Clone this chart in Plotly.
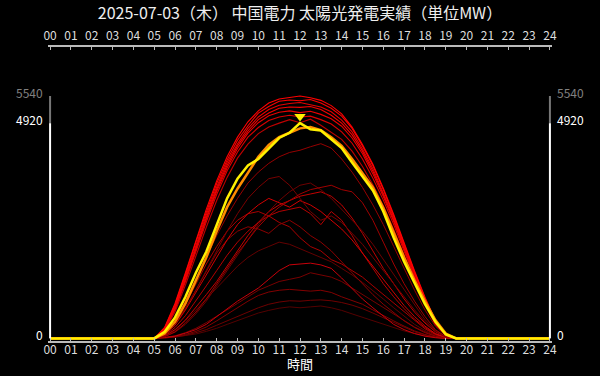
import plotly.graph_objects as go

# hours for the daytime samples (30-min resolution)
hours = [5.0, 5.5, 6.0, 6.5, 7.0, 7.5, 8.0, 8.5, 9.0, 9.5, 10.0, 10.5, 11.0, 11.5, 12.0,
         12.5, 13.0, 13.5, 14.0, 14.5, 15.0, 15.5, 16.0, 16.5, 17.0, 17.5, 18.0, 18.5, 19.0, 19.5]

tick_vals = [0, 1, 2, 3, 4, 5, 6, 7, 8, 9, 10, 11, 12, 13, 14, 15, 16, 17, 18, 19, 20, 21, 22, 23, 24]
tick_text = ["00", "01", "02", "03", "04", "05", "06", "07", "08", "09", "10", "11", "12",
             "13", "14", "15", "16", "17", "18", "19", "20", "21", "22", "23", "24"]

# past days - cloudy / low output (dark reds)
d01 = [0,120,420,850,1350,1850,2350,2800,3200,3550,3800,4000,4150,4250,4300,4380,4450,4350,4100,3800,3450,3050,2600,2100,1600,1100,650,280,60,0]
d02 = [0,100,350,700,1100,1550,2000,2450,2850,3200,3450,3650,3700,3500,3200,2900,2700,2800,2650,2400,2150,1850,1550,1250,950,650,380,160,30,0]
d03 = [0,60,200,420,700,1000,1300,1650,2000,2350,2650,2900,3050,3150,3250,3300,3350,3250,3050,2750,2400,2000,1600,1250,900,600,350,150,30,0]
d04 = [0,90,300,650,1050,1450,1850,2250,2600,2850,3050,3200,3100,3000,3150,3050,2900,2700,2500,2250,1950,1650,1350,1050,750,500,280,110,20,0]
d05 = [0,70,250,520,850,1200,1550,1900,2200,2450,2650,2800,2900,2950,3000,2850,2600,2900,2700,2350,1950,1600,1250,950,680,440,250,100,20,0]
d06 = [0,110,380,780,1250,1700,2100,2450,2700,2850,2900,2800,2650,2550,2300,2100,2000,1800,1700,1550,1400,1200,1000,800,600,400,220,90,20,0]
d07 = [0,20,50,120,200,320,500,680,850,1000,1150,1350,1550,1680,1700,1720,1680,1600,1380,1150,900,700,500,320,200,110,50,15,0,0]
d08 = [0,15,40,90,160,260,400,550,700,850,980,1060,1100,1120,1100,1080,1100,1050,950,870,780,650,520,400,280,170,90,30,0,0]
d09 = [0,10,30,70,130,200,300,400,500,600,700,780,830,860,850,870,880,860,820,760,680,580,470,360,250,150,80,25,0,0]
d10 = [0,90,320,680,1100,1550,1950,2250,2450,2550,2500,2400,2600,2700,2550,2350,2200,2000,1750,1500,1250,1000,780,580,400,250,130,50,10,0]
d11 = [0,50,180,400,650,900,1150,1400,1650,1850,2000,2100,2200,2150,2050,1950,1850,1750,1600,1450,1280,1100,900,700,500,320,180,70,10,0]
d12 = [0,40,150,350,600,900,1250,1600,1950,2250,2550,2800,3000,3150,3300,3400,3450,3500,3400,3350,3100,2700,2200,1700,1250,850,500,200,40,0]
d13 = [0,10,30,60,100,160,230,320,410,500,580,640,690,720,700,720,740,700,640,560,480,400,320,240,170,110,60,20,0,0]
d14 = [0,20,60,130,230,360,500,650,800,950,1100,1200,1300,1350,1400,1500,1450,1400,1300,1150,1000,850,700,550,400,260,150,60,10,0]
d15 = [0,40,140,320,560,850,1200,1550,1900,2250,2600,2900,3150,3350,3500,3550,3400,3200,2950,2700,2450,2150,1800,1450,1100,750,430,180,40,0]

# past days - clear (bright reds)
c01 = [0,250,800,1500,2250,2950,3600,4150,4600,4950,5200,5380,5470,5510,5540,5500,5440,5320,5130,4830,4430,3980,3430,2830,2180,1540,940,410,100,0]
c02 = [0,235,770,1460,2200,2880,3540,4080,4530,4860,5150,5300,5420,5450,5430,5460,5380,5260,5080,4800,4400,3950,3400,2800,2150,1510,920,400,95,0]
c03 = [0,215,730,1410,2120,2820,3460,4020,4450,4800,5060,5230,5330,5370,5390,5340,5290,5180,4990,4720,4330,3880,3340,2760,2110,1480,890,380,85,0]
c04 = [0,200,700,1370,2090,2760,3410,3960,4400,4740,5000,5150,5260,5290,5280,5300,5230,5100,4920,4650,4280,3820,3290,2710,2070,1450,870,365,80,0]
c05 = [0,195,690,1340,2040,2720,3360,3900,4340,4690,4930,5090,5170,5200,5160,5190,5120,5020,4850,4580,4220,3760,3240,2670,2040,1410,840,350,75,0]
c06 = [0,185,660,1300,1990,2660,3290,3830,4260,4600,4820,4980,5060,5100,5060,5080,5000,4900,4720,4460,4100,3660,3160,2600,1990,1380,810,335,70,0]
c07 = [0,170,610,1220,1890,2540,3150,3680,4120,4440,4680,4830,4920,5000,4930,5010,4870,4720,4550,4280,3930,3510,3030,2490,1900,1310,780,315,65,0]

# yesterday (orange) and today (yellow)
yesterday = [0,110,380,800,1330,1850,2450,3000,3420,3800,4150,4420,4600,4700,4800,4830,4760,4600,4400,4100,3780,3450,2980,2400,1850,1330,850,420,110,0]
today = [0,150,480,950,1500,1980,2600,3200,3650,3950,4100,4350,4580,4700,4920,4780,4750,4550,4350,4020,3700,3380,2900,2300,1750,1250,780,380,90,0]

today_peak_hour = 12.0
today_peak = 4920
all_max = 5540

dark_series = [
    (d13, "rgb(85,0,0)"), (d09, "rgb(110,0,0)"), (d08, "rgb(130,0,0)"), (d14, "rgb(120,0,0)"),
    (d11, "rgb(100,0,0)"), (d07, "rgb(200,0,10)"), (d06, "rgb(170,0,0)"), (d10, "rgb(140,0,0)"),
    (d05, "rgb(180,0,0)"), (d04, "rgb(210,0,0)"), (d03, "rgb(195,0,0)"), (d02, "rgb(120,0,0)"),
    (d15, "rgb(110,0,0)"), (d12, "rgb(160,0,0)"), (d01, "rgb(150,0,0)"),
]
clear_series = [
    (c07, "rgb(190,0,0)"), (c06, "rgb(220,0,0)"), (c05, "rgb(235,0,0)"), (c04, "rgb(245,0,0)"),
    (c03, "rgb(230,0,0)"), (c02, "rgb(250,0,0)"), (c01, "rgb(255,0,0)"),
]

xs = [0.0] + hours + [24.0]

fig = go.Figure()
for vals, col in dark_series:
    fig.add_trace(go.Scatter(x=xs, y=[0] + vals + [0], mode="lines",
                             line=dict(color=col, width=1), hoverinfo="skip", showlegend=False))
for vals, col in clear_series:
    fig.add_trace(go.Scatter(x=xs, y=[0] + vals + [0], mode="lines",
                             line=dict(color=col, width=1.1), hoverinfo="skip", showlegend=False))
fig.add_trace(go.Scatter(x=xs, y=[0] + yesterday + [0], mode="lines",
                         line=dict(color="rgb(255,140,0)", width=2.5), showlegend=False))
fig.add_trace(go.Scatter(x=xs, y=[0] + today + [0], mode="lines",
                         line=dict(color="rgb(255,240,0)", width=2.5), showlegend=False))
# peak marker (drawn on the top / right overlay axes)
fig.add_trace(go.Scatter(x=[today_peak_hour], y=[today_peak + 150], mode="markers",
                         marker=dict(symbol="triangle-down", size=10, color="rgb(255,240,0)"),
                         xaxis="x2", yaxis="y2", showlegend=False, cliponaxis=False))

# vertical axis lines (white to today's peak, gray to all-time max)
for xv in (0, 24):
    fig.add_shape(type="line", xref="x", yref="y", x0=xv, x1=xv, y0=0, y1=today_peak,
                  line=dict(color="white", width=2))
    fig.add_shape(type="line", xref="x", yref="y", x0=xv, x1=xv, y0=today_peak, y1=all_max,
                  line=dict(color="#777777", width=2))

font_family = "Noto Sans CJK JP, Noto Sans, sans-serif"
yticks = [0, today_peak, all_max]
ycolors = ["white", "white", "#808080"]

# value labels on both vertical axes (slightly raised like the original)
for v, c in zip(yticks, ycolors):
    for xp, anchor, xs_shift in ((0, "right", -3), (1, "left", 3)):
        fig.add_annotation(text=str(v), xref="paper", yref="y", x=xp, y=v,
                           xanchor=anchor, yanchor="middle", xshift=xs_shift, yshift=4,
                           showarrow=False, font=dict(size=12, color=c, family=font_family))

# axis title, anchored by its bottom edge just inside the picture
fig.add_annotation(text="時間", xref="paper", yref="paper", x=0.5, y=0, yshift=-34,
                   xanchor="center", yanchor="bottom", showarrow=False,
                   font=dict(size=13, color="white", family=font_family))

fig.update_layout(
    width=600, height=376,
    margin=dict(l=48, r=48, t=47, b=35, autoexpand=False),
    paper_bgcolor="black", plot_bgcolor="black",
    font=dict(family=font_family, color="white"),
    title=dict(text="2025-07-03（木） 中国電力 太陽光発電実績（単位MW）",
               x=0.5, xanchor="center", y=1 - 13 / 376, yanchor="middle", yref="container",
               font=dict(size=16, color="#eeeeee", family=font_family)),
    xaxis=dict(range=[-0.1, 24.1], tickvals=tick_vals, ticktext=tick_text, automargin=False,
               showgrid=False, zeroline=False, showline=True, linecolor="#bbbbbb", linewidth=1.5,
               ticks="inside", ticklen=3, tickcolor="#bbbbbb", ticklabelstandoff=-3,
               tickfont=dict(size=12, color="#dddddd")),
    xaxis2=dict(range=[-0.1, 24.1], matches="x", overlaying="x", side="top", anchor="y2",
                tickvals=tick_vals, ticktext=tick_text, automargin=False,
                showgrid=False, zeroline=False, showline=True, linecolor="#bbbbbb", linewidth=1.5,
                ticks="inside", ticklen=3, tickcolor="#bbbbbb",
                tickfont=dict(size=12, color="#dddddd")),
    yaxis=dict(range=[-60, 6660], showticklabels=False, automargin=False,
               showgrid=False, zeroline=False, showline=False, ticks=""),
    yaxis2=dict(range=[-60, 6660], matches="y", overlaying="y", side="right", anchor="x2",
                showticklabels=False, automargin=False,
                showgrid=False, zeroline=False, showline=False, ticks=""),
)

fig.write_html("out.html")
